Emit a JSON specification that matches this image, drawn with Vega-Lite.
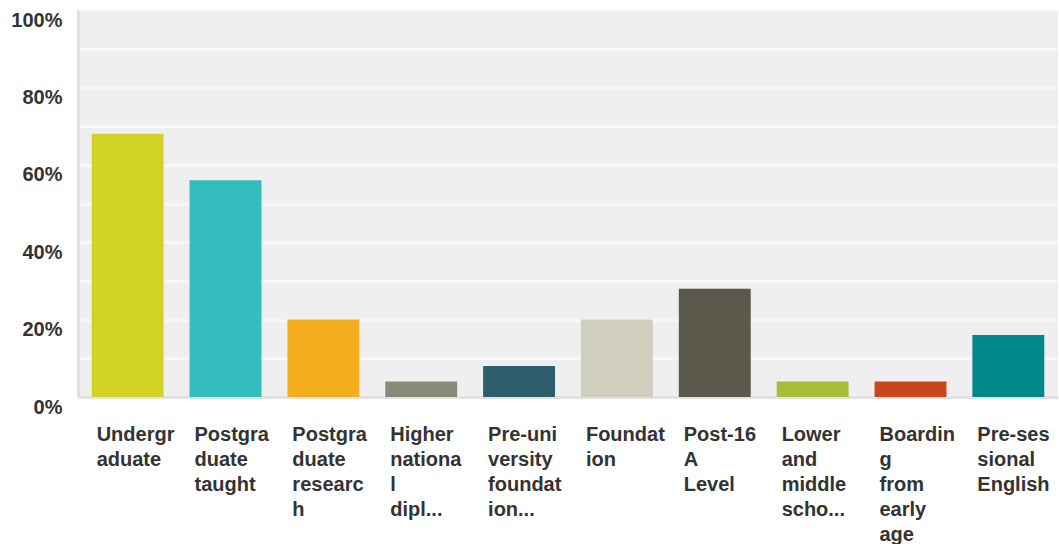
{
  "$schema": "https://vega.github.io/schema/vega-lite/v6.json",
  "width": 980,
  "height": 387,
  "autosize": {"type": "none"},
  "padding": {"left": 78, "top": 10, "right": 1, "bottom": 147},
  "background": "#ffffff",
  "view": {"fill": "#efefef", "stroke": null},
  "config": {"font": "Liberation Sans"},
  "data": {
    "values": [
      {"category": "Undergr|aduate", "percent": 0.68},
      {"category": "Postgra|duate|taught", "percent": 0.56},
      {"category": "Postgra|duate|researc|h", "percent": 0.20},
      {"category": "Higher|nationa|l|dipl...", "percent": 0.04},
      {"category": "Pre-uni|versity|foundat|ion...", "percent": 0.08},
      {"category": "Foundat|ion", "percent": 0.20},
      {"category": "Post-16|A|Level", "percent": 0.28},
      {"category": "Lower|and|middle|scho...", "percent": 0.04},
      {"category": "Boardin|g|from|early|age", "percent": 0.04},
      {"category": "Pre-ses|sional|English", "percent": 0.16}
    ]
  },
  "mark": {"type": "bar"},
  "encoding": {
    "x": {
      "field": "category",
      "type": "nominal",
      "sort": null,
      "scale": {"paddingInner": 0.265, "paddingOuter": 0.14},
      "axis": {
        "title": null,
        "labelAngle": 0,
        "labelAlign": "left",
        "labelBaseline": "top",
        "labelOffset": -31,
        "labelPadding": 27,
        "labelFont": "Liberation Sans",
        "labelFontSize": 20,
        "labelFontWeight": "bold",
        "labelColor": "#333333",
        "labelLineHeight": 25,
        "labelExpr": "split(datum.label, '|')",
        "labelLimit": 0,
        "labelOverlap": false,
        "ticks": false,
        "domainColor": "#e2e2e2",
        "domainWidth": 3
      }
    },
    "y": {
      "field": "percent",
      "type": "quantitative",
      "scale": {"domain": [0, 1]},
      "axis": {
        "title": null,
        "values": [0, 0.1, 0.2, 0.3, 0.4, 0.5, 0.6, 0.7, 0.8, 0.9, 1],
        "labelExpr": "round(datum.value * 100) % 20 == 0 ? format(datum.value, '.0%') : ''",
        "labelFont": "Liberation Sans",
        "labelFontSize": 20,
        "labelFontWeight": "bold",
        "labelColor": "#333333",
        "labelPadding": 16,
        "labelOffset": 10,
        "ticks": false,
        "domainColor": "#e0e0e0",
        "domainWidth": 3,
        "gridColor": "#f8f8f8",
        "gridWidth": 2.5
      }
    },
    "color": {
      "field": "category",
      "type": "nominal",
      "sort": null,
      "legend": null,
      "scale": {
        "domain": ["Undergr|aduate", "Postgra|duate|taught", "Postgra|duate|researc|h", "Higher|nationa|l|dipl...", "Pre-uni|versity|foundat|ion...", "Foundat|ion", "Post-16|A|Level", "Lower|and|middle|scho...", "Boardin|g|from|early|age", "Pre-ses|sional|English"],
        "range": ["#d0d326", "#33bdbf", "#f6ae21", "#8a8a78", "#2e5e6b", "#d0cfbf", "#5b594b", "#a9bd38", "#c9451c", "#00898a"]
      }
    }
  }
}
